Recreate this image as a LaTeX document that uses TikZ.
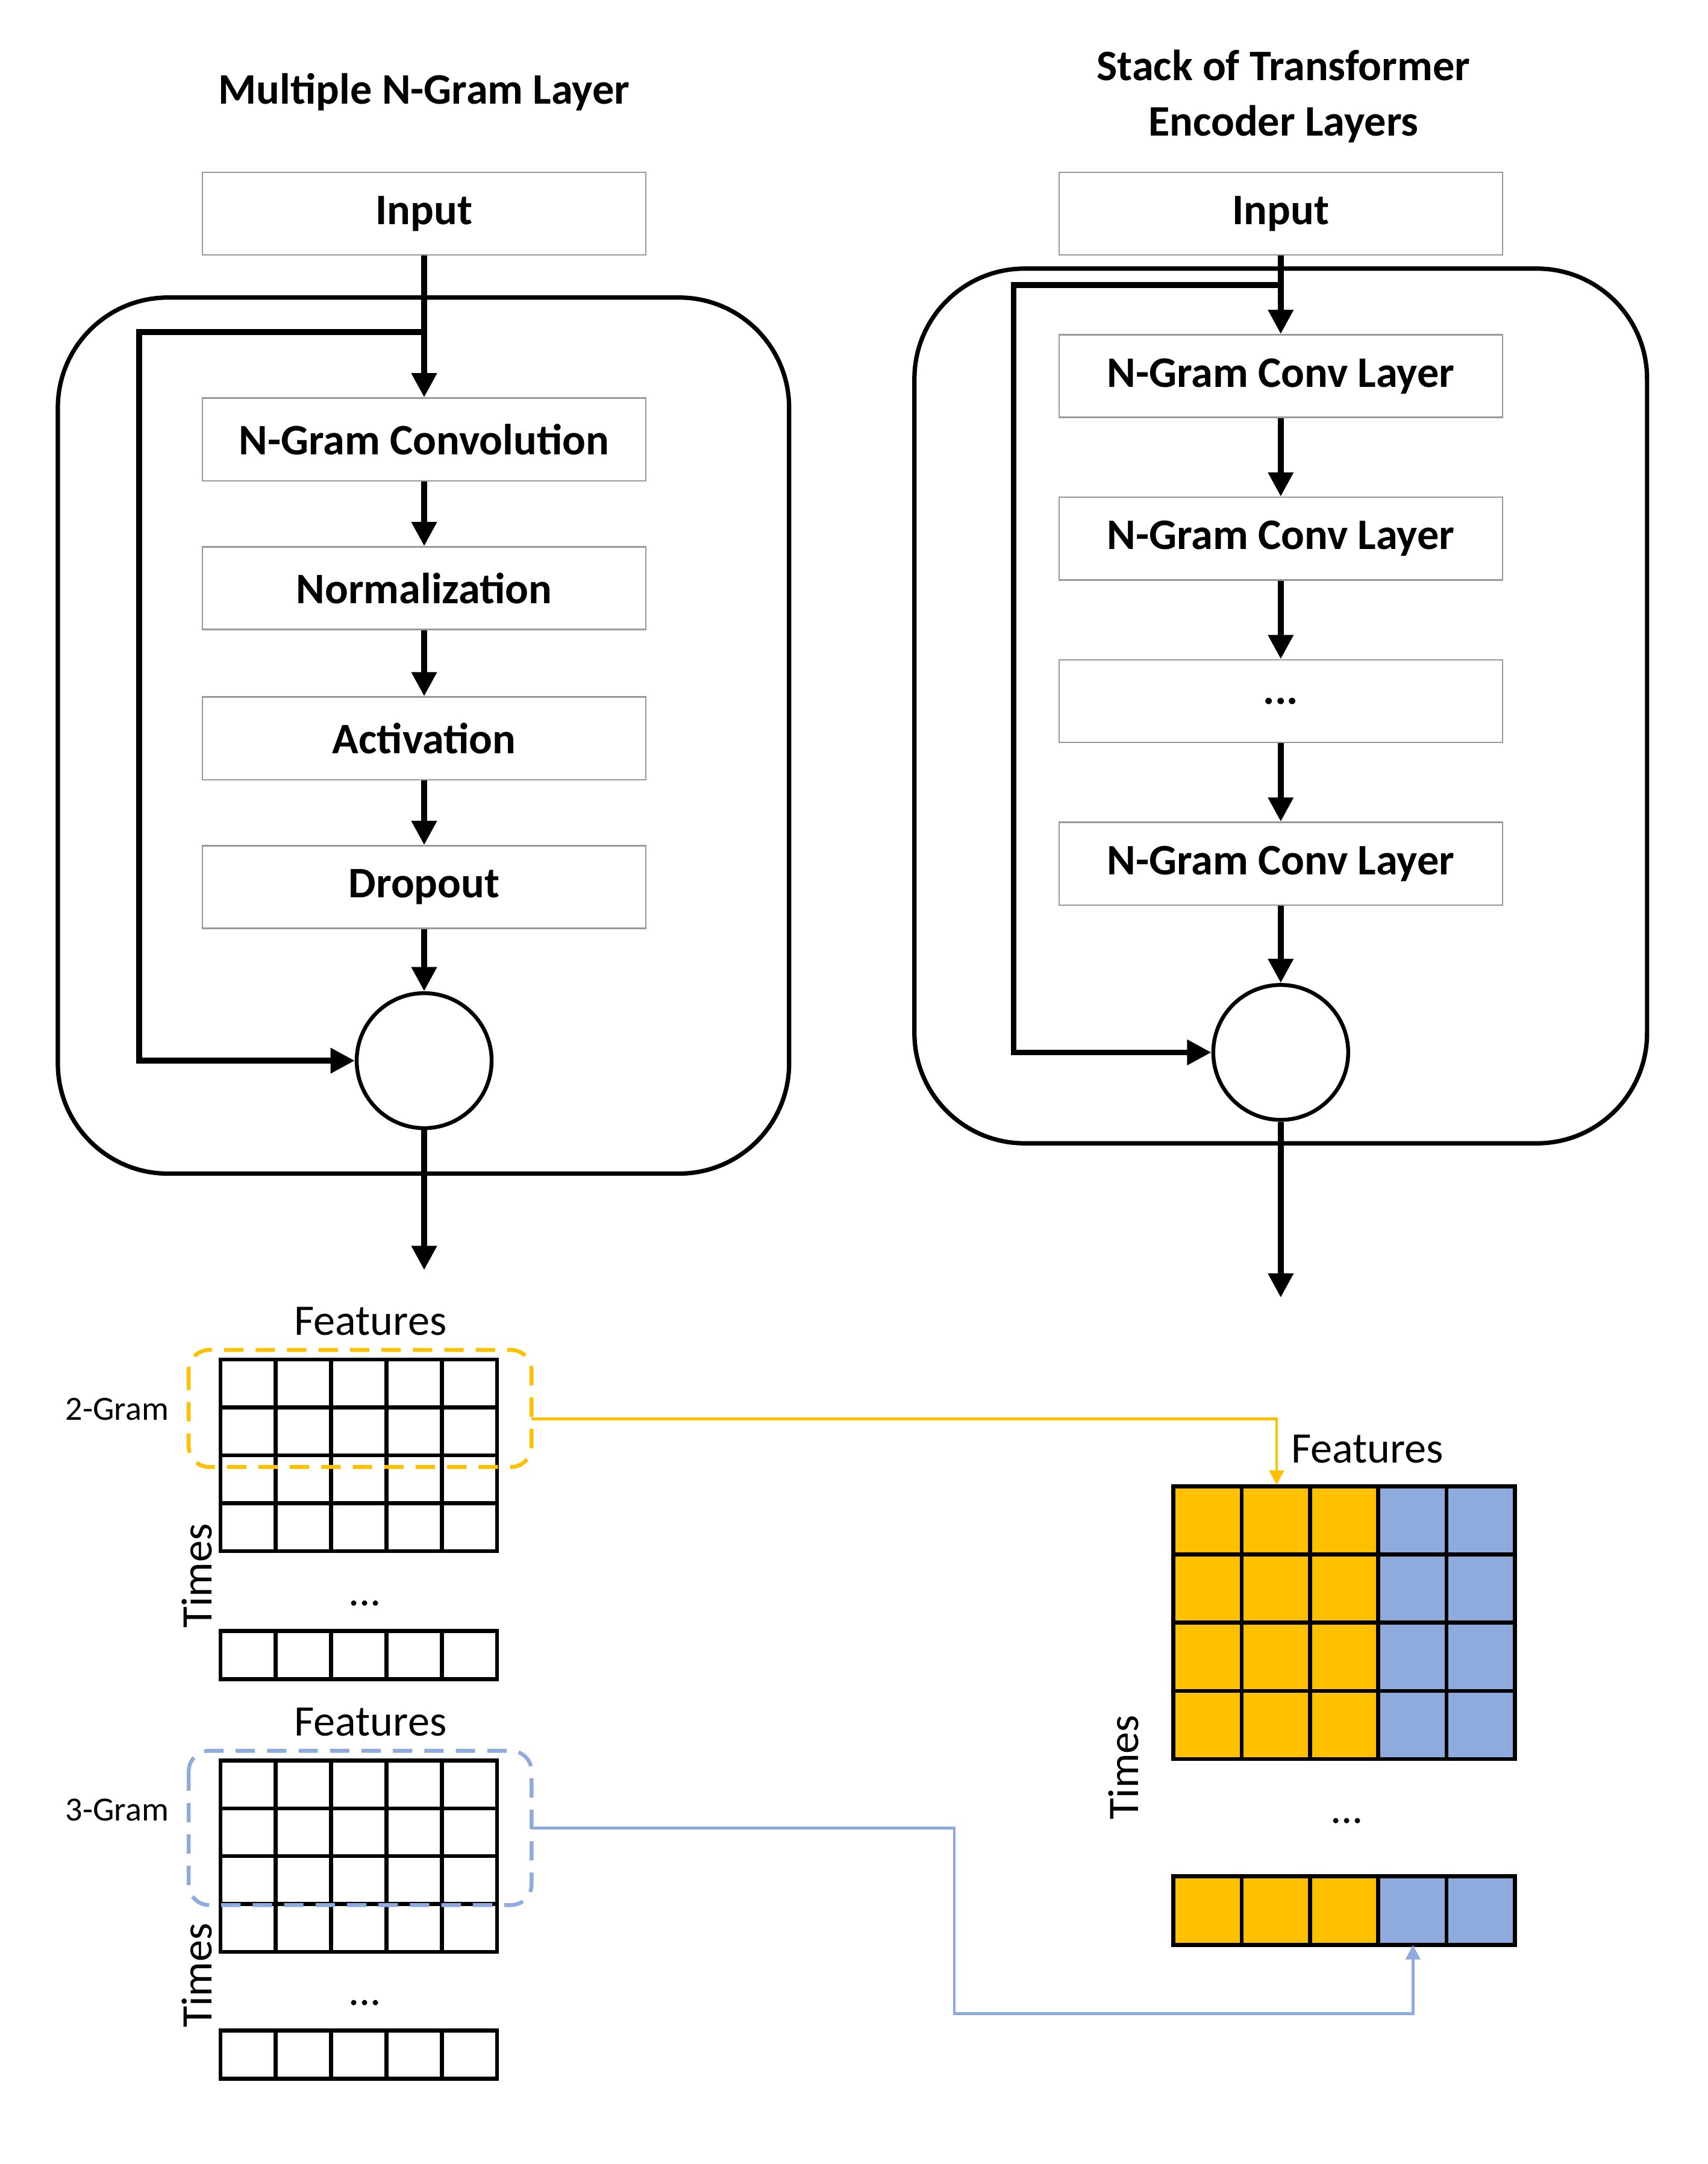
\documentclass[tikz,border=0pt]{standalone}
\usepackage{fontspec}
\setmainfont{Carlito}
\usetikzlibrary{arrows.meta,positioning}
\definecolor{gold}{HTML}{FFC000}
\definecolor{steel}{HTML}{8FAADC}
\tikzset{
  blk/.style={draw=gray!80,line width=0.6pt,minimum width=6.44cm,minimum height=1.2cm,font=\fontsize{18}{20}\selectfont\bfseries},
  flow/.style={line width=2.4pt,-{Triangle[length=10pt,width=10pt]}},
  frame/.style={line width=1.8pt,rounded corners=1.6cm},
  sumnode/.style={draw,circle,line width=1.6pt,minimum size=1.96cm},
  lbl/.style={font=\fontsize{18}{20}\selectfont},
  smalllbl/.style={font=\fontsize{14}{16}\selectfont},
}
\begin{document}
\begin{tikzpicture}[x=0.02cm,y=-0.02cm]
\useasboundingbox (0,0) rectangle (1240,1571);

% left panel: n-gram layer
\node[font=\fontsize{18}{20}\selectfont\bfseries] (ltitle) at (308,67) {Multiple N-Gram Layer};
\draw[frame] (42,216) rectangle (573,852);
\node[blk] (lin) at (308,155) {Input};
\node[blk] (conv) at (308,319) {N-Gram Convolution};
\node[blk] (norm) at (308,427) {Normalization};
\node[blk] (act) at (308,536) {Activation};
\node[blk] (drop) at (308,644) {Dropout};
\node[sumnode] (lsum) at (308,770) {};
\coordinate (lout) at (308,922);

\draw[flow] (lin) -- (conv);
\draw[flow] (conv) -- (norm);
\draw[flow] (norm) -- (act);
\draw[flow] (act) -- (drop);
\draw[flow] (drop) -- (lsum);
\draw[flow] (lsum) -- (lout);
\draw[flow] (308,241) -- (101,241) |- (lsum);

% right panel: encoder stack
\node[font=\fontsize{18}{20}\selectfont\bfseries,align=center] (rtitle) at (932,70) {Stack of Transformer\\[3pt]Encoder Layers};
\draw[frame] (664,195) rectangle (1196,830);
\node[blk] (rin) at (930,155) {Input};
\node[blk] (enc1) at (930,273) {N-Gram Conv Layer};
\node[blk] (enc2) at (930,391) {N-Gram Conv Layer};
\node[blk] (encd) at (930,509) {...};
\node[blk] (encn) at (930,627) {N-Gram Conv Layer};
\node[sumnode] (rsum) at (930,764) {};
\coordinate (rout) at (930,942);

\draw[flow] (rin) -- (enc1);
\draw[flow] (enc1) -- (enc2);
\draw[flow] (enc2) -- (encd);
\draw[flow] (encd) -- (encn);
\draw[flow] (encn) -- (rsum);
\draw[flow] (rsum) -- (rout);
\draw[flow] (930,207) -- (736,207) |- (rsum);

% feature grids
\foreach \top/\last/\name in {987/1184/two,1278/1474/three}{
  \foreach \r in {0,...,3}
    \foreach \c in {0,...,4}
      \draw[line width=1.6pt] (160+40.2*\c,\top+34.75*\r) rectangle ++(40.2,34.75);
  \foreach \c in {0,...,4}
    \draw[line width=1.6pt] (160+40.2*\c,\last) rectangle ++(40.2,35);
  \node[lbl] (feat\name) at (269,\top-28) {Features};
  \node[lbl] at (265,\last-20) {...};
  \node[lbl,rotate=90] at (143,\last-40) {Times};
}
\node[smalllbl] (twolbl) at (85,1023) {2-Gram};
\node[smalllbl] (threelbl) at (85,1314) {3-Gram};
\draw[gold,line width=1.6pt,dashed,dash pattern=on 8pt off 5pt,rounded corners=0.3cm] (137,980) rectangle (386,1065);
\draw[steel,line width=1.6pt,dashed,dash pattern=on 8pt off 5pt,rounded corners=0.3cm] (137,1271) rectangle (386,1383);

% merged grid
\foreach \c/\col in {0/gold,1/gold,2/gold,3/steel,4/steel}{
  \foreach \r in {0,...,3}
    \draw[fill=\col,line width=1.6pt] (852+49.6*\c,1079+49.5*\r) rectangle ++(49.6,49.5);
  \draw[fill=\col,line width=1.6pt] (852+49.6*\c,1362) rectangle ++(49.6,50);
}
\node[lbl] (featm) at (993,1052) {Features};
\node[lbl,rotate=90] at (816,1283) {Times};
\node[lbl] at (978,1322) {...};

\coordinate (twoout) at (386,1030);
\coordinate (twoin) at (927,1078);
\coordinate (threeout) at (386,1327);
\coordinate (threein) at (1026,1412);
\draw[gold,line width=1.2pt,-{Triangle[length=6pt,width=6pt]}] (twoout) -| (twoin);
\draw[steel,line width=1.2pt,-{Triangle[length=6pt,width=6pt]}] (threeout) -- (693,1327) |- (1026,1462) -- (threein);

\end{tikzpicture}
\end{document}
